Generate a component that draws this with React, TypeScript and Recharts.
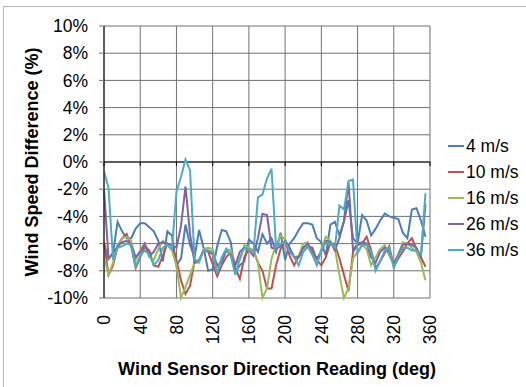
import React from 'react'
import { LineChart, Line, XAxis, YAxis, CartesianGrid, ReferenceLine, Label } from 'recharts'

// direction readings (deg) and wind speed difference (%) per tunnel speed
const directions = [
  0, 5, 10, 15, 20, 25, 30, 35, 40, 45, 50, 55, 60, 65, 70, 75, 80, 85,
  90, 95, 100, 105, 110, 115, 120, 125, 130, 135, 140, 145, 150, 155, 160, 165, 170, 175,
  180, 185, 190, 195, 200, 205, 210, 215, 220, 225, 230, 235, 240, 245, 250, 255, 260, 265,
  270, 275, 280, 285, 290, 295, 300, 305, 310, 315, 320, 325, 330, 335, 340, 345, 350, 355,
]

const speed4 = [
  -6.0, -7.1, -6.7, -4.4, -5.1, -5.6, -5.6, -4.9, -4.5, -4.5, -4.8, -5.1, -5.8, -7.3, -5.1, -5.4, -7.6, -7.1,
  -4.6, -6.1, -7.0, -5.0, -6.3, -8.0, -7.9, -6.2, -5.0, -5.1, -5.9, -8.1, -7.6, -7.3, -5.7, -6.0, -6.6, -5.3,
  -6.0, -5.6, -6.6, -5.2, -7.2, -6.0, -5.6, -5.0, -4.5, -4.5, -4.6, -5.6, -5.9, -6.9, -4.6, -4.4, -5.4, -4.4,
  -2.8, -5.6, -6.0, -3.9, -4.3, -5.4, -4.9, -4.3, -3.8, -4.0, -4.1, -4.2, -5.2, -5.6, -3.5, -3.4, -4.3, -5.5,
]

const speed10 = [
  -5.9, -8.3, -7.6, -6.2, -5.6, -5.3, -6.2, -7.8, -7.0, -6.2, -6.5, -7.6, -7.7, -6.9, -6.0, -6.1, -7.2, -8.7,
  -9.7, -9.1, -7.3, -7.3, -6.5, -6.6, -7.5, -8.4, -7.6, -7.0, -6.6, -7.8, -8.6, -7.0, -6.4, -6.5, -7.4, -8.0,
  -9.3, -9.3, -7.6, -6.4, -5.8, -6.9, -7.6, -6.9, -6.6, -6.2, -6.3, -7.2, -7.6, -7.0, -5.9, -6.1, -7.1, -8.3,
  -9.5, -6.6, -6.1, -6.0, -5.5, -6.5, -7.8, -7.3, -6.7, -6.2, -7.7, -7.1, -6.6, -6.0, -5.6, -6.4, -7.0, -7.7,
]

const speed16 = [
  -6.9, -8.3, -7.4, -6.1, -5.6, -5.5, -5.8, -7.2, -6.5, -6.0, -7.0, -7.2, -6.4, -5.8, -6.1, -6.5, -7.6, -10.0,
  -9.2, -8.3, -7.4, -7.4, -6.4, -6.3, -6.4, -7.7, -7.2, -6.4, -6.5, -7.5, -7.2, -6.1, -6.3, -6.5, -7.4, -10.0,
  -9.3, -7.1, -6.1, -5.4, -5.7, -6.4, -7.0, -6.9, -6.0, -5.9, -6.8, -7.4, -6.4, -5.5, -5.8, -6.4, -8.3, -10.0,
  -9.3, -7.1, -6.6, -6.1, -6.4, -7.6, -7.0, -6.4, -6.1, -6.9, -7.5, -6.8, -5.9, -6.0, -6.3, -6.6, -7.4, -8.7,
]

const speed26 = [
  -2.0, -7.1, -6.7, -6.2, -5.9, -5.8, -6.1, -7.0, -6.6, -6.0, -6.9, -6.6, -6.0, -5.9, -6.0, -6.1, -6.3, -4.7,
  -1.8, -5.3, -7.4, -7.2, -6.5, -6.5, -6.8, -7.6, -7.4, -6.5, -6.8, -7.6, -6.6, -6.3, -6.5, -6.9, -5.6, -3.8,
  -3.9, -6.3, -6.4, -6.2, -5.8, -6.3, -7.0, -7.0, -6.3, -6.0, -6.6, -7.1, -6.6, -5.8, -5.9, -6.5, -5.6, -4.3,
  -1.5, -6.5, -6.0, -5.9, -6.0, -7.0, -7.4, -6.6, -6.3, -6.6, -7.5, -6.8, -6.1, -6.0, -6.1, -6.3, -7.0, -3.1,
]

const speed36 = [
  -0.7, -1.9, -7.2, -6.3, -6.2, -6.0, -6.1, -7.7, -6.9, -6.5, -6.8, -7.6, -7.2, -6.3, -6.1, -6.4, -2.2, -1.1,
  0.2, -0.6, -7.2, -7.3, -6.5, -6.5, -6.6, -8.2, -7.0, -6.4, -6.9, -8.3, -7.1, -6.3, -6.5, -6.7, -2.6, -2.4,
  -1.2, -0.5, -6.3, -6.0, -5.9, -6.6, -7.0, -7.6, -6.6, -6.2, -6.8, -7.6, -6.5, -5.9, -6.0, -6.3, -3.2, -3.5,
  -1.4, -1.3, -6.7, -6.1, -6.1, -6.6, -8.0, -7.3, -6.5, -6.3, -7.8, -6.9, -6.3, -6.3, -6.5, -6.5, -6.8, -2.3,
]

const xTicks = [0, 40, 80, 120, 160, 200, 240, 280, 320, 360]
const yTicks = [-10, -8, -6, -4, -2, 0, 2, 4, 6, 8, 10]

const series = [
  { key: 's4', name: '4 m/s', color: '#4A7EBB', values: speed4 },
  { key: 's10', name: '10 m/s', color: '#C0504D', values: speed10 },
  { key: 's16', name: '16 m/s', color: '#9BBB59', values: speed16 },
  { key: 's26', name: '26 m/s', color: '#8064A2', values: speed26 },
  { key: 's36', name: '36 m/s', color: '#4BACC6', values: speed36 },
]

const rows = directions.map((deg, i) => {
  const row: Record<string, number> = { deg }
  series.forEach((s) => {
    row[s.key] = s.values[i]
  })
  return row
})

const FONT = '"Liberation Sans", Arial, sans-serif'
const GRID = '#717171'

/* rotated direction labels under the plot */
function DirectionTick({ x, y, payload }: any) {
  return (
    <text
      x={x}
      y={y}
      transform={`rotate(-90, ${x}, ${y})`}
      textAnchor="end"
      dy="0.36em"
      fill="#000"
      fontSize={17.5}
      fontFamily={FONT}
    >
      {payload.value}
    </text>
  )
}

function YTitle({ viewBox }: any) {
  const cx = 32
  const cy = viewBox.y + viewBox.height / 2
  return (
    <text
      x={cx}
      y={cy}
      transform={`rotate(-90, ${cx}, ${cy})`}
      textAnchor="middle"
      dominantBaseline="central"
      fontWeight="bold"
      fontSize={18}
      fontFamily={FONT}
      fill="#000"
    >
      Wind Speed Difference (%)
    </text>
  )
}

function XTitle({ viewBox }: any) {
  return (
    <text
      x={viewBox.x + viewBox.width / 2 + 10}
      y={viewBox.y + 77}
      textAnchor="middle"
      fontWeight="bold"
      fontSize={18}
      fontFamily={FONT}
      fill="#000"
    >
      Wind Sensor Direction Reading (deg)
    </text>
  )
}

export default function App() {
  return (
    <div style={{ position: 'absolute', left: 0, top: 0, width: 526, height: 387, background: '#fff' }}>
      {/* chart frame, only left and top edges fall inside the image */}
      <div
        style={{
          position: 'absolute',
          left: 3,
          top: 6,
          right: -10,
          bottom: -10,
          borderLeft: '1px solid #b8b8b8',
          borderTop: '1px solid #b8b8b8',
        }}
      />
      <LineChart
        width={526}
        height={387}
        data={rows}
        margin={{ top: 26, right: 96, left: 0, bottom: 0 }}
        style={{ position: 'absolute', left: 0, top: 0 }}
      >
        <CartesianGrid stroke={GRID} strokeWidth={1} />
        <XAxis
          dataKey="deg"
          type="number"
          domain={[0, 360]}
          ticks={xTicks}
          interval={0}
          height={89}
          axisLine={false}
          tickLine={false}
          tickSize={6}
          tickMargin={11}
          tick={<DirectionTick />}
        >
          <Label content={<XTitle />} />
        </XAxis>
        <YAxis
          type="number"
          domain={[-10, 10]}
          ticks={yTicks}
          interval={0}
          width={104}
          axisLine={{ stroke: '#000', strokeWidth: 1 }}
          tickLine={{ stroke: GRID }}
          tickSize={5}
          tickMargin={11}
          tickFormatter={(v: number) => `${v}%`}
          tick={{ fill: '#000', fontSize: 17.5, fontFamily: FONT }}
        >
          <Label content={<YTitle />} />
        </YAxis>
        <ReferenceLine y={0} stroke="#000" strokeWidth={1} ifOverflow="extendDomain" />
        {xTicks.map((t) => (
          <ReferenceLine
            key={t}
            segment={[
              { x: t, y: 0 },
              { x: t, y: -0.3 },
            ]}
            stroke="#000"
            strokeWidth={1}
          />
        ))}
        {series.map((s) => (
          <Line
            key={s.key}
            type="linear"
            dataKey={s.key}
            name={s.name}
            stroke={s.color}
            strokeWidth={2}
            dot={false}
            activeDot={false}
            isAnimationActive={false}
          />
        ))}
      </LineChart>
      {/* legend */}
      <div style={{ position: 'absolute', left: 448, top: 133, fontFamily: FONT, fontSize: 17.5, color: '#000' }}>
        {series.map((s) => (
          <div key={s.key} style={{ display: 'flex', alignItems: 'center', height: 26, whiteSpace: 'nowrap' }}>
            <span style={{ display: 'inline-block', width: 16, height: 2, background: s.color, marginRight: 2 }} />
            <span>{s.name}</span>
          </div>
        ))}
      </div>
    </div>
  )
}
